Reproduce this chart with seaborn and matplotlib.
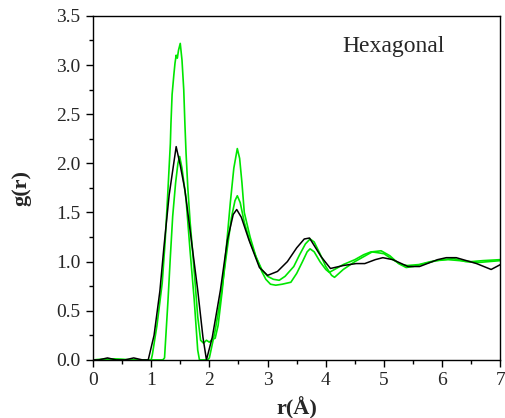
import numpy as np
import matplotlib
matplotlib.use("Agg")
import matplotlib.pyplot as plt
import seaborn as sns
from matplotlib.ticker import MultipleLocator, FormatStrFormatter

# black curve (coarse sampling)
r_black = [0.0, 0.1, 0.25, 0.4, 0.55, 0.7, 0.85, 0.95, 1.05, 1.15, 1.22, 1.31, 1.43,
           1.5, 1.58, 1.69, 1.8, 1.89, 1.95, 2.05, 2.19, 2.31, 2.41, 2.47, 2.55, 2.68,
           2.86, 3.0, 3.17, 3.34, 3.5, 3.63, 3.72, 3.92, 4.08, 4.3, 4.52, 4.67, 4.85,
           4.98, 5.15, 5.41, 5.61, 5.92, 6.07, 6.24, 6.59, 6.84, 7.0]
g_black = [0.0, 0.0, 0.02, 0.0, 0.0, 0.02, 0.0, 0.0, 0.25, 0.7, 1.15, 1.68, 2.17,
           1.98, 1.73, 1.22, 0.71, 0.23, 0.0, 0.23, 0.71, 1.22, 1.48, 1.53, 1.45, 1.22,
           0.94, 0.86, 0.9, 1.0, 1.14, 1.23, 1.24, 1.05, 0.93, 0.96, 0.98, 0.98, 1.02,
           1.04, 1.02, 0.95, 0.95, 1.02, 1.04, 1.04, 0.98, 0.92, 0.97]

# green curve with the tall first peak
r_green1 = [0.0, 0.3, 0.6, 1.0, 1.02, 1.1, 1.19, 1.24, 1.28, 1.33, 1.34, 1.36, 1.39,
            1.41, 1.43, 1.45, 1.47, 1.5, 1.53, 1.56, 1.58, 1.6, 1.63, 1.67, 1.71, 1.76,
            1.8, 1.85, 1.9, 1.95, 2.0, 2.05, 2.1, 2.15, 2.22, 2.3, 2.36, 2.42, 2.48,
            2.52, 2.56, 2.6, 2.7, 2.8, 2.9, 2.97, 3.05, 3.14, 3.25, 3.4, 3.5, 3.6,
            3.68, 3.73, 3.8, 3.9, 4.0, 4.06, 4.15, 4.3, 4.5, 4.65, 4.78, 4.9, 5.0,
            5.15, 5.3, 5.4, 5.6, 5.8, 6.0, 6.2, 6.4, 6.6, 6.8, 7.0]
g_green1 = [0.0, 0.01, 0.0, 0.0, 0.05, 0.35, 0.78, 1.2, 1.63, 2.2, 2.4, 2.7, 2.9,
            3.02, 3.1, 3.07, 3.15, 3.22, 3.05, 2.75, 2.4, 2.1, 1.75, 1.4, 1.12, 0.75,
            0.44, 0.2, 0.17, 0.2, 0.18, 0.21, 0.22, 0.35, 0.7, 1.2, 1.6, 1.95, 2.15,
            2.05, 1.8, 1.5, 1.25, 1.05, 0.9, 0.82, 0.77, 0.76, 0.77, 0.79, 0.88, 1.0,
            1.1, 1.13, 1.1, 1.0, 0.92, 0.89, 0.92, 0.97, 1.02, 1.07, 1.1, 1.09, 1.08,
            1.02, 0.97, 0.96, 0.97, 1.0, 1.02, 1.03, 1.0, 0.99, 1.0, 1.01]

# second green curve
r_green2 = [0.0, 0.35, 0.7, 1.2, 1.23, 1.29, 1.33, 1.37, 1.42, 1.46, 1.49, 1.53, 1.6,
            1.67, 1.74, 1.8, 1.83, 1.97, 2.0, 2.1, 2.2, 2.3, 2.38, 2.44, 2.48, 2.53,
            2.6, 2.7, 2.8, 2.9, 3.0, 3.1, 3.2, 3.3, 3.45, 3.55, 3.65, 3.73, 3.8, 3.9,
            4.0, 4.1, 4.15, 4.3, 4.5, 4.65, 4.8, 4.95, 5.1, 5.25, 5.38, 5.5, 5.7, 5.9,
            6.1, 6.3, 6.5, 6.7, 7.0]
g_green2 = [0.0, 0.01, 0.0, 0.0, 0.02, 0.61, 1.05, 1.46, 1.8, 2.0, 2.07, 1.95, 1.63,
            1.1, 0.61, 0.1, 0.0, 0.0, 0.02, 0.3, 0.65, 1.1, 1.45, 1.62, 1.67, 1.6,
            1.4, 1.2, 1.05, 0.92, 0.85, 0.82, 0.81, 0.85, 0.95, 1.07, 1.18, 1.23, 1.2,
            1.08, 0.95, 0.86, 0.84, 0.92, 1.0, 1.05, 1.1, 1.11, 1.06, 0.98, 0.94, 0.95,
            0.98, 1.01, 1.02, 1.01, 1.0, 1.01, 1.02]

sns.set_style("ticks")
plt.rcParams['font.family'] = ['Liberation Serif', 'DejaVu Serif']

fig = plt.figure(figsize=(5.05, 4.18), dpi=100)
ax = fig.add_axes([0.184, 0.139, 0.807, 0.823])

green = "#00e600"
sns.lineplot(x=r_green1, y=g_green1, color=green, lw=1.2, ax=ax)
sns.lineplot(x=r_green2, y=g_green2, color=green, lw=1.2, ax=ax)
sns.lineplot(x=r_black, y=g_black, color="black", lw=1.1, ax=ax)

ax.set_xlim(0, 7)
ax.set_ylim(0, 3.5)
ax.xaxis.set_major_locator(MultipleLocator(1))
ax.xaxis.set_minor_locator(MultipleLocator(0.5))
ax.yaxis.set_major_locator(MultipleLocator(0.5))
ax.yaxis.set_minor_locator(MultipleLocator(0.25))
ax.yaxis.set_major_formatter(FormatStrFormatter('%.1f'))
ax.tick_params(which='major', direction='out', length=5, width=1, labelsize=14,
               color='black', pad=4)
ax.tick_params(which='minor', direction='out', length=3, width=1, color='black')
for s in ax.spines.values():
    s.set_linewidth(1.0)
    s.set_color('black')

ax.set_xlabel("r(Å)", fontsize=16, fontweight='bold')
ax.set_ylabel("g(r)", fontsize=16, fontweight='bold')
ax.xaxis.set_label_coords(0.5, -0.108)
ax.yaxis.set_label_coords(-0.152, 0.5)
ax.text(0.738, 0.91, "Hexagonal", transform=ax.transAxes, ha='center', va='center',
        fontsize=17)

fig.savefig("out.png", dpi=100)
